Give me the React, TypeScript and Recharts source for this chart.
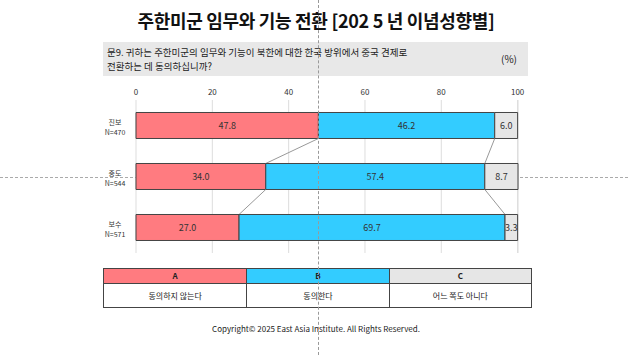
import { BarChart, Bar, XAxis, YAxis, CartesianGrid, LabelList, Rectangle } from 'recharts';

const groups = ['진보', '중도', '보수'];
const sampleSizes = ['N=470', 'N=544', 'N=571'];
const disagree = [47.8, 34.0, 27.0];
const agree = [46.2, 57.4, 69.7];
const neither = [6.0, 8.7, 3.3];
const xTicks = [0, 20, 40, 60, 80, 100];
const legendKeys = ['A', 'B', 'C'];
const legendLabels = ['동의하지 않는다', '동의한다', '어느 쪽도 아니다'];

const colors = ['#FF7B80', '#33CCFF', '#E6E6E6'];
const FONT = '"Noto Sans CJK KR", "Noto Sans", sans-serif';
// fraction of a category band left empty on each side of a bar
const GAP = 0.245;

const data = groups.map((g, i) => ({
  name: g,
  A: disagree[i],
  B: agree[i],
  C: neither[i],
}));

const cumA = disagree;
const cumAB = disagree.map((v, i) => v + agree[i]);

// bar segment that also draws the gray connector to the same boundary on the next row
const makeShape = (own: number[], cumEnd: number[]) => (props: any) => {
  const { x, y, width, height, index, fill, stroke, strokeWidth } = props;
  const ppu = width / own[index];
  const x0 = x + width - cumEnd[index] * ppu;
  const band = height / (1 - 2 * GAP);
  const next = index + 1 < cumEnd.length;
  return (
    <g>
      <Rectangle x={x} y={y} width={width} height={height} fill={fill} stroke={stroke} strokeWidth={strokeWidth} />
      {next && (
        <line
          x1={x + width}
          y1={y + height}
          x2={x0 + cumEnd[index + 1] * ppu}
          y2={y + height + 2 * GAP * band}
          stroke="#999"
          strokeWidth={1}
        />
      )}
    </g>
  );
};

const shapeA = makeShape(disagree, cumA);
const shapeB = makeShape(agree, cumAB);

const GroupTick = (props: any) => {
  const { x, y, payload, index } = props;
  const cx = x - 21;
  return (
    <text textAnchor="middle" fontSize={7} fill="#333" fontFamily={FONT}>
      <tspan x={cx} y={y - 1}>{payload.value}</tspan>
      <tspan x={cx} y={y + 9}>{sampleSizes[index]}</tspan>
    </text>
  );
};

const fmt = (v: any) => Number(v).toFixed(1);

export default function App() {
  return (
    <div
      style={{
        position: 'fixed',
        left: 0,
        top: 0,
        width: 628,
        height: 355,
        background: '#fff',
        fontFamily: FONT,
        overflow: 'hidden',
      }}
    >
      {/* horizontal guide (behind chart) */}
      <div style={{ position: 'absolute', left: 0, top: 177, width: 628, borderTop: '1px dashed #aaa' }} />

      <div
        style={{
          position: 'absolute',
          top: 7,
          left: 0,
          width: 632,
          textAlign: 'center',
          fontSize: 18,
          fontWeight: 700,
          color: '#111',
          letterSpacing: -0.3,
        }}
      >
        주한미군 임무와 기능 전환 [202 5 년 이념성향별]
      </div>

      <div
        style={{
          position: 'absolute',
          top: 42,
          left: 103,
          width: 425,
          height: 34,
          background: '#e8e8e8',
          fontSize: 9.5,
          lineHeight: '14px',
          color: '#222',
          boxSizing: 'border-box',
          padding: '3px 0 0 4px',
        }}
      >
        <div>문9. 귀하는 주한미군의 임무와 기능이 북한에 대한 한국 방위에서 중국 견제로</div>
        <div>전환하는 데 동의하십니까?</div>
        <div style={{ position: 'absolute', right: 11, top: 10, fontSize: 10 }}>(%)</div>
      </div>

      <div style={{ position: 'absolute', left: 0, top: 0 }}>
        <BarChart
          width={628}
          height={260}
          data={data}
          layout="vertical"
          margin={{ top: 80, right: 110, bottom: 7, left: 90 }}
          barCategoryGap={`${GAP * 100}%`}
        >
          <CartesianGrid horizontal={false} stroke="#dddddd" />
          <XAxis
            type="number"
            orientation="top"
            domain={[0, 100]}
            ticks={xTicks}
            height={20}
            axisLine={false}
            tickLine={false}
            tickSize={0}
            tickMargin={5}
            tick={{ fontSize: 8, fill: '#333', fontFamily: FONT }}
            interval={0}
          />
          <YAxis
            type="category"
            dataKey="name"
            width={46}
            axisLine={false}
            tickLine={false}
            tickSize={0}
            tickMargin={0}
            tick={<GroupTick />}
          />
          <Bar dataKey="A" stackId="s" fill={colors[0]} stroke="#444" strokeWidth={1} shape={shapeA} isAnimationActive={false}>
            <LabelList dataKey="A" position="center" formatter={fmt} fontSize={9} fill="#333" fontFamily={FONT} />
          </Bar>
          <Bar dataKey="B" stackId="s" fill={colors[1]} stroke="#444" strokeWidth={1} shape={shapeB} isAnimationActive={false}>
            <LabelList dataKey="B" position="center" formatter={fmt} fontSize={9} fill="#333" fontFamily={FONT} />
          </Bar>
          <Bar dataKey="C" stackId="s" fill={colors[2]} stroke="#444" strokeWidth={1} isAnimationActive={false}>
            <LabelList dataKey="C" position="center" formatter={fmt} fontSize={9} fill="#333" fontFamily={FONT} />
          </Bar>
        </BarChart>
      </div>

      <div
        style={{
          position: 'absolute',
          top: 268,
          left: 103,
          width: 429,
          display: 'grid',
          gridTemplateColumns: '1fr 1fr 1fr',
          border: '1px solid #444',
          boxSizing: 'border-box',
          fontSize: 8,
          color: '#222',
        }}
      >
        {legendKeys.map((k, i) => (
          <div
            key={k}
            style={{
              background: colors[i],
              height: 14,
              lineHeight: '14px',
              textAlign: 'center',
              borderLeft: i ? '1px solid #444' : 'none',
              borderBottom: '1px solid #444',
              fontWeight: 700,
            }}
          >
            {k}
          </div>
        ))}
        {legendLabels.map((l, i) => (
          <div
            key={l}
            style={{
              height: 23,
              lineHeight: '23px',
              textAlign: 'center',
              borderLeft: i ? '1px solid #444' : 'none',
            }}
          >
            {l}
          </div>
        ))}
      </div>

      <div
        style={{
          position: 'absolute',
          top: 323,
          left: 0,
          width: 632,
          textAlign: 'center',
          fontSize: 8,
          color: '#222',
        }}
      >
        Copyright© 2025 East Asia Institute. All Rights Reserved.
      </div>

      {/* vertical guide (on top) */}
      <div style={{ position: 'absolute', left: 318, top: 0, height: 355, borderLeft: '1px dashed #999' }} />
    </div>
  );
}
